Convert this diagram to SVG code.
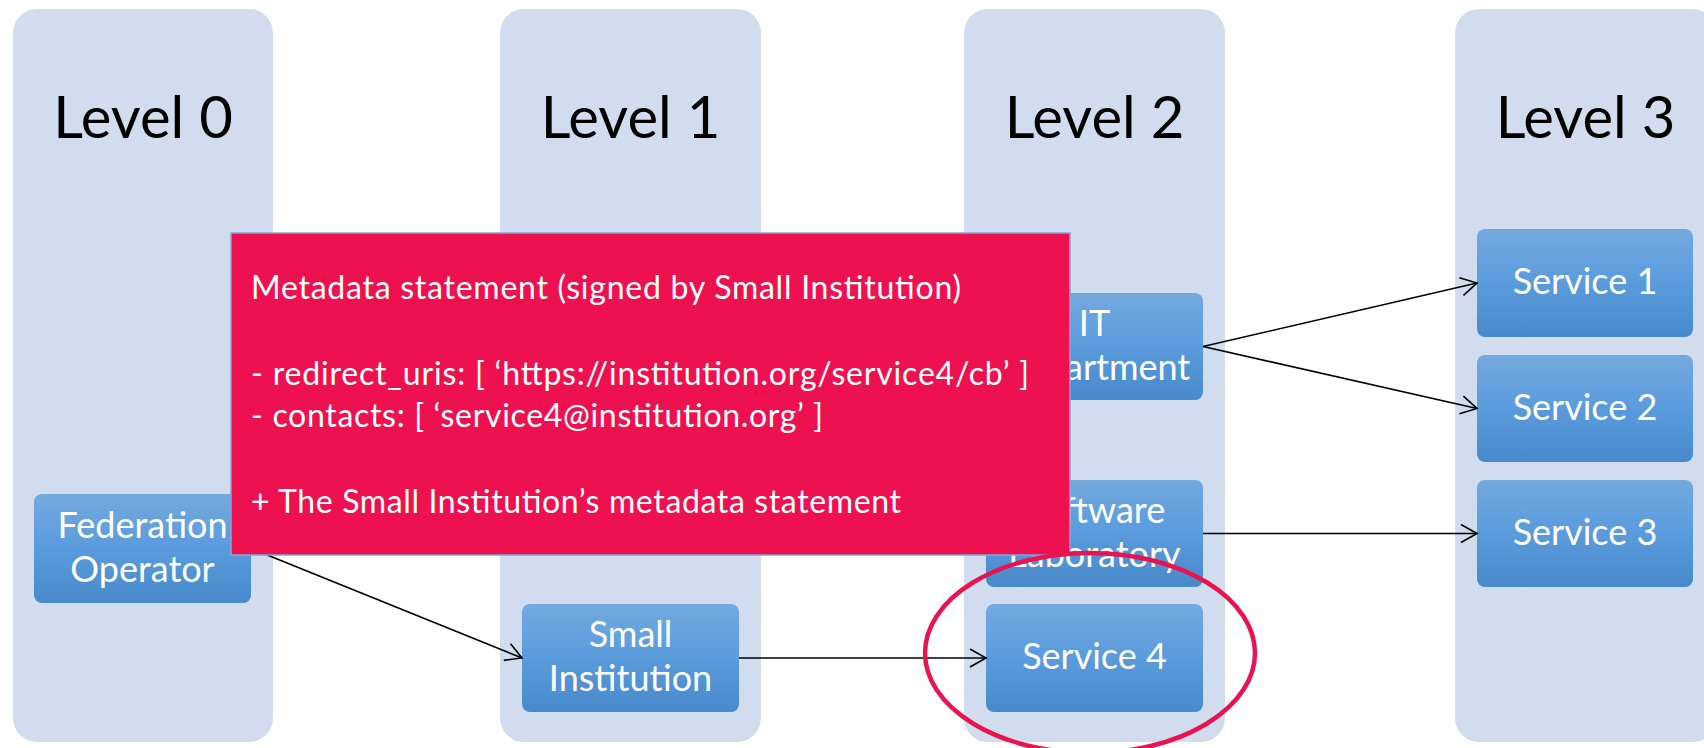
<svg xmlns="http://www.w3.org/2000/svg" width="1704" height="748" viewBox="0 0 1704 748">
  <defs>
    <linearGradient id="nodeFill" x1="0" y1="0" x2="0" y2="1">
      <stop offset="0" stop-color="#74A9DD"/>
      <stop offset="0.45" stop-color="#5C9DDD"/>
      <stop offset="1" stop-color="#4789CA"/>
    </linearGradient>
    <marker id="openArrow" markerUnits="userSpaceOnUse" markerWidth="22" markerHeight="22" viewBox="0 0 22 22" refX="18" refY="11" orient="auto">
      <path d="M2,2 L18,11 L2,20" fill="none" stroke="#000" stroke-width="1.6"/>
    </marker>
    <style>
      .lane { fill: #D1DDEE; }
      .lane-title { font-family: Lato, "Open Sans", "Liberation Sans", sans-serif; font-size: 58px; fill: #000; text-anchor: middle; }
      .node rect { fill: url(#nodeFill); }
      .node text { font-family: Lato, "Open Sans", "Liberation Sans", sans-serif; font-size: 36px; fill: #fff; text-anchor: middle; }
      .link { fill: none; stroke: #000; stroke-width: 1.6; marker-end: url(#openArrow); }
      .callout-box { fill: #EE1150; stroke: #7FA8D8; stroke-width: 1.5; }
      .callout-text { font-family: Lato, "Open Sans", "Liberation Sans", sans-serif; font-size: 32px; fill: #fff; }
      .highlight { fill: none; stroke: #E8134F; stroke-width: 4.5; }
    </style>
  </defs>

  <rect width="1704" height="748" fill="#fff"/>

  <!-- level lanes -->
  <g id="lanes">
    <g id="lane-0">
      <rect class="lane" x="13" y="9" width="260" height="733" rx="24"/>
      <text class="lane-title" x="143" y="138">Level 0</text>
    </g>
    <g id="lane-1">
      <rect class="lane" x="500" y="9" width="261" height="733" rx="24"/>
      <text class="lane-title" x="630.5" y="138">Level 1</text>
    </g>
    <g id="lane-2">
      <rect class="lane" x="964" y="9" width="261" height="733" rx="24"/>
      <text class="lane-title" x="1094.5" y="138">Level 2</text>
    </g>
    <g id="lane-3">
      <rect class="lane" x="1455" y="9" width="261" height="733" rx="24"/>
      <text class="lane-title" x="1585.5" y="138">Level 3</text>
    </g>
  </g>

  <!-- entities -->
  <g id="federation-operator" class="node">
    <rect x="34" y="494" width="217" height="109" rx="8"/>
    <text x="142.5" y="537.5">Federation</text>
    <text x="142.5" y="581.5">Operator</text>
  </g>
  <g id="small-institution" class="node">
    <rect x="522" y="604" width="217" height="108" rx="8"/>
    <text x="630.5" y="647">Small</text>
    <text x="630.5" y="691">Institution</text>
  </g>
  <g id="it-department" class="node">
    <rect x="986" y="293" width="217" height="107" rx="8"/>
    <text x="1094.5" y="335.5">IT</text>
    <text x="1094.5" y="379.5">Department</text>
  </g>
  <g id="software-laboratory" class="node">
    <rect x="986" y="480" width="217" height="107" rx="8"/>
    <text x="1094.5" y="522.5">Software</text>
    <text x="1094.5" y="566.5">Laboratory</text>
  </g>
  <g id="service-4" class="node">
    <rect x="986" y="604" width="217" height="108" rx="8"/>
    <text x="1094.5" y="669">Service 4</text>
  </g>
  <g id="service-1" class="node">
    <rect x="1477" y="229" width="216" height="108" rx="8"/>
    <text x="1585" y="294">Service 1</text>
  </g>
  <g id="service-2" class="node">
    <rect x="1477" y="355" width="216" height="107" rx="8"/>
    <text x="1585" y="419.5">Service 2</text>
  </g>
  <g id="service-3" class="node">
    <rect x="1477" y="480" width="216" height="107" rx="8"/>
    <text x="1585" y="544.5">Service 3</text>
  </g>

  <!-- delegation links -->
  <g id="connectors">
    <line class="link" x1="251" y1="548.5" x2="522" y2="658"/>
    <line class="link" x1="739" y1="658" x2="986" y2="658"/>
    <line class="link" x1="1203" y1="346.5" x2="1477" y2="283"/>
    <line class="link" x1="1203" y1="346.5" x2="1477" y2="408.5"/>
    <line class="link" x1="1203" y1="533.5" x2="1477" y2="533.5"/>
  </g>

  <!-- metadata statement callout -->
  <g id="metadata-statement">
    <rect class="callout-box" x="231" y="233" width="839" height="322"/>
    <text class="callout-text" x="251" y="299" textLength="710" lengthAdjust="spacing">Metadata statement (signed by Small Institution)</text>
    <text class="callout-text" x="251" y="385" textLength="778" lengthAdjust="spacing">- redirect_uris: [ ‘https://institution.org/service4/cb’ ]</text>
    <text class="callout-text" x="251" y="427" textLength="572" lengthAdjust="spacing">- contacts: [ ‘service4@institution.org’ ]</text>
    <text class="callout-text" x="251" y="513" textLength="650" lengthAdjust="spacing">+ The Small Institution’s metadata statement</text>
  </g>

  <!-- ring around Service 4 -->
  <g id="service-4-ring">
    <ellipse class="highlight" cx="1090" cy="653" rx="165" ry="100"/>
  </g>
</svg>
